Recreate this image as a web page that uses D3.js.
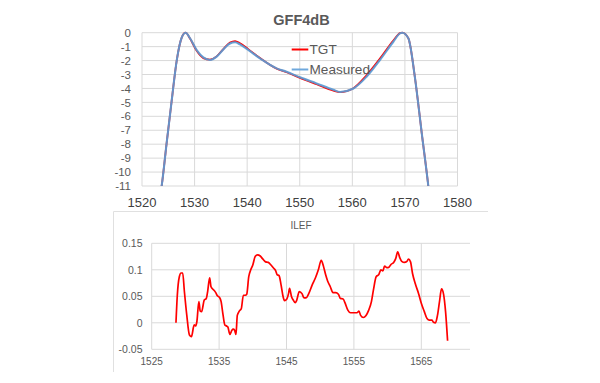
<!DOCTYPE html>
<html><head><meta charset="utf-8">
<script src="https://cdn.jsdelivr.net/npm/d3@7"></script>
<style>body{margin:0;background:#fff}svg{display:block}text{font-family:"Liberation Sans",Arial,sans-serif}</style>
</head><body><svg id="c" width="600" height="383"></svg>
<script>
// ---- Top chart: GFF4dB ----
const gffTitle = "GFF4dB";
const gffXTicks = [1520,1530,1540,1550,1560,1570,1580];
const gffYTicks = [0,-1,-2,-3,-4,-5,-6,-7,-8,-9,-10,-11];
const measuredX = [1523.2,1523.74,1524.69,1525.64,1526.6,1527.55,1528.3,1529.13,1530.4,1531.66,1532.93,1534.2,1535.46,1536.74,1537.7,1538.64,1540.2,1542.44,1545.6,1547.5,1550.05,1553.2,1556.4,1557.66,1560.2,1562.7,1565.25,1567.8,1569.07,1569.5,1570.65,1571.9,1573.2,1574.45,1574.8];
const measuredY = [-12.2,-11,-7.9,-4.9,-2.0,-0.35,0,-0.4,-1.25,-1.77,-1.96,-1.72,-1.2,-0.77,-0.69,-0.84,-1.24,-1.84,-2.56,-2.8,-3.2,-3.64,-4.1,-4.25,-4.0,-3.16,-1.96,-0.65,-0.05,0,-0.4,-3.2,-7.2,-11,-12.2];
const tgtX = measuredX;
const tgtY = [-12.2,-11,-7.9,-4.9,-2.0,-0.35,0,-0.42,-1.3,-1.82,-1.93,-1.7,-1.17,-0.7,-0.6,-0.76,-1.18,-1.82,-2.58,-2.84,-3.24,-3.7,-4.16,-4.26,-3.98,-3.06,-1.86,-0.56,-0.03,0,-0.4,-3.2,-7.2,-11,-12.2];
const legendLabels = ["TGT","Measured"];

// ---- Bottom chart: ILEF ----
const ilefTitle = "ILEF";
const ilefXTicks = [1525,1535,1545,1555,1565];
const ilefYTicks = [0.15,0.1,0.05,0,-0.05];
const ilefYLabels = ["0.15","0.1","0.05","0","-0.05"];
const ilefX = [1528.6,1528.8,1529.1,1529.36,1529.6,1529.85,1530.2,1530.6,1530.9,1531.3,1531.5,1531.7,1532.0,1532.2,1532.4,1532.8,1533.1,1533.3,1533.6,1533.8,1534.2,1534.5,1534.75,1535.05,1535.3,1535.55,1535.85,1536.1,1536.3,1536.6,1536.9,1537.1,1537.3,1537.5,1537.7,1538.0,1538.3,1538.6,1538.9,1539.1,1539.4,1539.7,1540.0,1540.35,1540.7,1541.1,1541.5,1541.9,1542.3,1542.7,1543.1,1543.4,1543.6,1543.9,1544.2,1544.5,1544.7,1545.05,1545.3,1545.45,1545.75,1546.0,1546.3,1546.5,1546.9,1547.3,1547.6,1547.9,1548.3,1548.8,1549.3,1549.75,1550.15,1550.5,1550.8,1551.1,1551.5,1551.9,1552.3,1552.7,1553.0,1553.4,1553.7,1554.1,1554.5,1555.0,1555.45,1555.75,1556.0,1556.4,1556.8,1557.2,1557.6,1557.9,1558.3,1558.7,1559.0,1559.3,1559.55,1559.9,1560.2,1560.5,1560.9,1561.2,1561.5,1561.8,1562.1,1562.5,1562.8,1563.1,1563.4,1563.7,1564.1,1564.6,1565.0,1565.45,1565.85,1566.2,1566.6,1566.8,1567.1,1567.4,1567.7,1568.0,1568.3,1568.6,1568.9];
const ilefY = [0,0.052,0.087,0.094,0.094,0.059,0.015,-0.023,-0.026,-0.004,-0.006,0.002,0.04,0.022,0.021,0.043,0.046,0.059,0.085,0.068,0.062,0.057,0.051,0.048,0.04,0.018,-0.004,-0.006,-0.008,-0.022,-0.014,-0.012,-0.014,-0.022,0.014,0.022,0.027,0.052,0.052,0.054,0.087,0.1,0.109,0.125,0.128,0.126,0.12,0.115,0.114,0.109,0.103,0.098,0.091,0.089,0.071,0.049,0.042,0.045,0.055,0.065,0.049,0.043,0.038,0.042,0.059,0.055,0.047,0.047,0.055,0.071,0.085,0.101,0.118,0.106,0.091,0.079,0.068,0.057,0.057,0.054,0.046,0.045,0.037,0.024,0.019,0.019,0.019,0.022,0.014,0.01,0.014,0.024,0.04,0.062,0.087,0.091,0.1,0.098,0.107,0.104,0.105,0.11,0.114,0.121,0.134,0.123,0.116,0.114,0.115,0.12,0.115,0.093,0.074,0.055,0.037,0.021,0.008,0.005,0.005,0.001,0,0.014,0.04,0.064,0.054,0.021,-0.034];

const svg = d3.select("#c");
svg.append("rect").attr("width",600).attr("height",383).attr("fill","#fff");
const grid = "#d9d9d9";

// ===== Top chart =====
const tL = 142, tR = 457.5, tT = 32.7, tB = 186;
const tx = d3.scaleLinear().domain([1520,1580]).range([tL,tR]);
const ty = d3.scaleLinear().domain([-11,0]).range([tB,tT]);
const gTop = svg.append("g");
gTop.selectAll("line.h").data(gffYTicks).join("line")
  .attr("x1",tL).attr("x2",tR).attr("y1",d=>ty(d)).attr("y2",d=>ty(d))
  .attr("stroke",grid).attr("stroke-width",1);
gTop.selectAll("line.v").data(gffXTicks).join("line")
  .attr("x1",d=>tx(d)).attr("x2",d=>tx(d)).attr("y1",tT).attr("y2",tB)
  .attr("stroke",grid).attr("stroke-width",1);
gTop.selectAll("text.yl").data(gffYTicks).join("text")
  .attr("x",tL-11).attr("y",d=>ty(d)).attr("dy","0.36em").attr("text-anchor","end")
  .attr("font-size",11.5).attr("fill","#595959").text(d=>d);
gTop.selectAll("text.xl").data(gffXTicks).join("text")
  .attr("x",d=>tx(d)).attr("y",206.5).attr("text-anchor","middle")
  .attr("font-size",13).attr("fill","#404040").text(d=>d);
gTop.append("text").attr("x",301.5).attr("y",25).attr("text-anchor","middle")
  .attr("font-size",14.5).attr("font-weight","bold").attr("fill","#595959").text(gffTitle);
svg.append("clipPath").attr("id","tclip").append("rect")
  .attr("x",tL).attr("y",tT-3).attr("width",tR-tL).attr("height",tB-tT+3);
const tline = (xs,ys)=>d3.line().x((d,i)=>tx(xs[i])).y((d,i)=>ty(ys[i])).curve(d3.curveMonotoneX)(xs);
const tg = gTop.append("g").attr("clip-path","url(#tclip)");
tg.append("path").attr("d",tline(tgtX,tgtY)).attr("fill","none").attr("stroke","#ff0000").attr("stroke-width",1.8);
tg.append("path").attr("d",tline(measuredX,measuredY)).attr("fill","none").attr("stroke","#5b9bd5").attr("stroke-width",2.1).attr("stroke-opacity",0.92);
// legend
const legColors = ["#ff0000","#6fa8dc"];
const legY = [49.5,69.5];
legendLabels.forEach((lab,i)=>{
  gTop.append("line").attr("x1",291.7).attr("x2",308.3).attr("y1",legY[i]).attr("y2",legY[i])
    .attr("stroke",legColors[i]).attr("stroke-width",2);
  gTop.append("text").attr("x",309.5).attr("y",legY[i]+4.8).attr("font-size",13.6)
    .attr("fill","#595959").text(lab);
});

// ===== Bottom chart =====
const bL = 151.7, bR = 470, bT = 243.3, bB = 349.3;
const bx = d3.scaleLinear().domain([1525,1525+(bR-bL)/6.74]).range([bL,bR]);
const by = d3.scaleLinear().domain([-0.05,0.15]).range([bB,bT]);
const gBot = svg.append("g");
gBot.append("line").attr("x1",113.5).attr("x2",488).attr("y1",211.5).attr("y2",211.5).attr("stroke","#e0e0e0");
gBot.append("line").attr("x1",113.5).attr("x2",113.5).attr("y1",211.5).attr("y2",372).attr("stroke","#e0e0e0");
gBot.selectAll("line.h").data(ilefYTicks).join("line")
  .attr("x1",bL).attr("x2",bR).attr("y1",d=>by(d)).attr("y2",d=>by(d))
  .attr("stroke",grid).attr("stroke-width",1);
gBot.selectAll("line.v").data(ilefXTicks).join("line")
  .attr("x1",d=>bx(d)).attr("x2",d=>bx(d)).attr("y1",bT).attr("y2",bB)
  .attr("stroke",grid).attr("stroke-width",1);
gBot.selectAll("text.yl").data(ilefYTicks).join("text")
  .attr("x",142.5).attr("y",d=>by(d)).attr("dy","0.36em").attr("text-anchor","end")
  .attr("font-size",10.5).attr("fill","#595959").text((d,i)=>ilefYLabels[i]);
gBot.selectAll("text.xl").data(ilefXTicks).join("text")
  .attr("x",d=>bx(d)).attr("y",365).attr("text-anchor","middle")
  .attr("font-size",10).attr("fill","#595959").text(d=>d);
gBot.append("text").attr("x",301).attr("y",229).attr("text-anchor","middle")
  .attr("font-size",10).attr("fill","#595959").text(ilefTitle);
const bline = d3.line().x((d,i)=>bx(ilefX[i])).y((d,i)=>by(ilefY[i])).curve(d3.curveMonotoneX);
gBot.append("path").attr("d",bline(ilefX)).attr("fill","none").attr("stroke","#ff0000").attr("stroke-width",1.7).attr("stroke-linejoin","round");
</script></body></html>
